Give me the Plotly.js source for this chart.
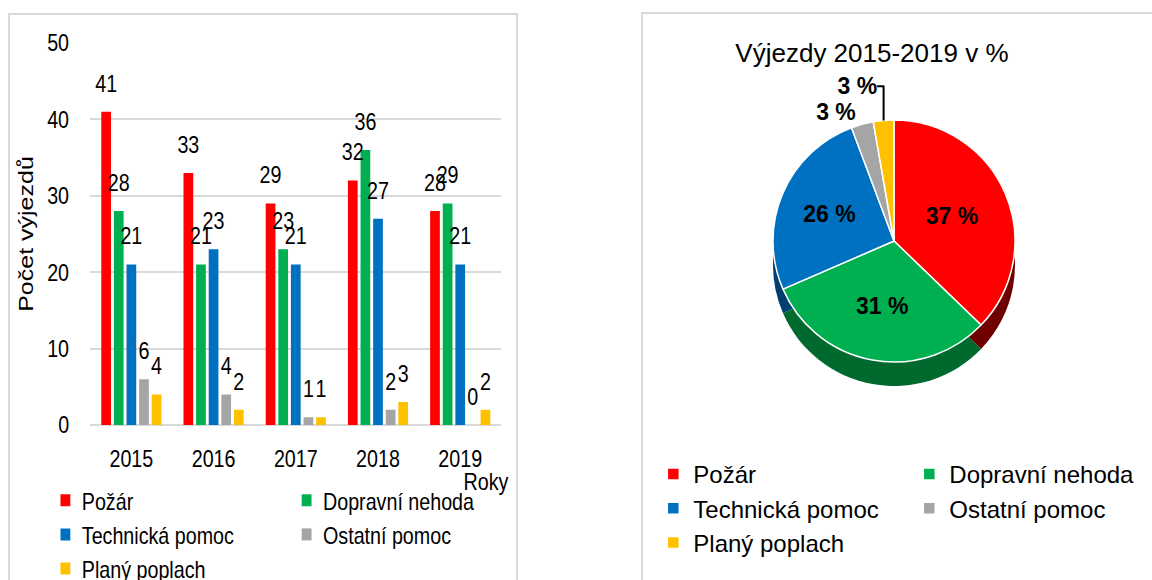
<!DOCTYPE html>
<html><head><meta charset="utf-8">
<script src="https://cdn.plot.ly/plotly-3.0.1.min.js"></script>
<style>
html,body{margin:0;padding:0;background:#fff;overflow:hidden;width:1152px;height:580px;}
#bars{position:absolute;left:0;top:0;width:780px;height:580px;transform:scaleX(0.8205);transform-origin:0 0;}
#pie{position:absolute;left:640px;top:0;width:512px;height:580px;}
.frame{position:absolute;border:2px solid #d9d9d9;box-sizing:border-box;}
</style></head><body>
<div class="frame" style="left:8px;top:13px;width:510px;height:620px;"></div>
<div class="frame" style="left:641px;top:12px;width:560px;height:620px;"></div>
<div id="bars"></div><div id="pie"></div>
<script>
// ---- data ----
const years = ['2015', '2016', '2017', '2018', '2019'];
const seriesNames = ['Požár', 'Dopravní nehoda', 'Technická pomoc', 'Ostatní pomoc', 'Planý poplach'];
const pozar = [41, 33, 29, 32, 28];
const dopravni = [28, 21, 23, 36, 29];
const technicka = [21, 23, 21, 27, 21];
const ostatni = [6, 4, 1, 2, 0];
const plany = [4, 2, 1, 3, 2];
const yTicks = [0, 10, 20, 30, 40, 50];
const yTitle = 'Počet výjezdů';
const xTitle = 'Roky';
const pieTitle = 'Výjezdy 2015-2019 v %';

// ---- styles ----
const colors = ['#ff0000', '#00b050', '#0070c0', '#a5a5a5', '#ffc000'];
const rimColors = ['#6e0000', '#00692e', '#003f70', '#6a6a6a', '#9a7400'];
const SANS = '"Liberation Sans", Arial, sans-serif';

const series = [pozar, dopravni, technicka, ostatni, plany];

// ---- bar chart (drawn in a wider box, then narrowed to mimic a condensed face) ----
const barTraces = series.map((vals, i) => ({
  type: 'bar', name: seriesNames[i], x: years, y: vals,
  marker: {color: colors[i]}, offsetgroup: 'g' + i, alignmentgroup: 'a',
  hovertemplate: '%{x}: %{y}<extra>' + seriesNames[i] + '</extra>'
}));
const labelTraces = series.map((vals, i) => ({
  type: 'scatter', mode: 'markers+text', x: years, y: vals,
  text: vals.map(String), textposition: 'top center',
  textfont: {family: SANS, size: 24, color: '#000'},
  marker: {size: 21, color: 'rgba(0,0,0,0)'},
  offsetgroup: 'g' + i, alignmentgroup: 'a',
  showlegend: false, hoverinfo: 'skip', cliponaxis: false
}));

const barLayout = {
  width: 780, height: 580,
  margin: {l: 110, r: 169, t: 43, b: 155, autoexpand: false},
  paper_bgcolor: 'rgba(0,0,0,0)', plot_bgcolor: 'rgba(0,0,0,0)',
  barmode: 'group', bargap: 0.233, bargroupgap: 0.23,
  scattermode: 'group',
  font: {family: SANS, size: 24, color: '#000'},
  xaxis: {type: 'category', ticks: 'outside', ticklen: 12, tickcolor: 'rgba(0,0,0,0)',
          showgrid: false, showline: false, zeroline: false, fixedrange: true,
          tickfont: {family: SANS, size: 24, color: '#000'}},
  yaxis: {range: [0, 50], tickvals: yTicks, showgrid: true, gridcolor: '#d9d9d9', gridwidth: 1.5,
          zeroline: true, zerolinecolor: '#d9d9d9', zerolinewidth: 2, showline: false,
          ticks: 'outside', ticklen: 20, tickcolor: 'rgba(0,0,0,0)', fixedrange: true,
          tickfont: {family: SANS, size: 24, color: '#000'},
          title: {text: yTitle, font: {family: SANS, size: 25, color: '#000'}, standoff: 9}},
  showlegend: true,
  legend: {orientation: 'h', x: -0.1004, xanchor: 'left', y: -0.139, yanchor: 'top',
           entrywidth: 249, entrywidthmode: 'pixels', traceorder: 'normal',
           font: {family: SANS, size: 24, color: '#000'}, bgcolor: 'rgba(0,0,0,0)'},
  annotations: [{text: xTitle, xref: 'paper', yref: 'paper', x: 1.022, y: -0.1466,
                 xanchor: 'right', yanchor: 'middle', showarrow: false,
                 font: {family: SANS, size: 24, color: '#000'}}]
};
Plotly.newPlot('bars', barTraces.concat(labelTraces), barLayout, {displayModeBar: false});

// ---- pie chart ----
const totals = series.map(v => v.reduce((a, b) => a + b, 0));
const grand = totals.reduce((a, b) => a + b, 0);
const pctText = totals.map(t => Math.round(t / grand * 100) + ' %');

const pieTopY = [1 - 362 / 580, 1 - 120 / 580];
const pieRimY = [1 - 386 / 580, 1 - 144 / 580];
const pieX = [(254 - 140) / 512, (254 + 140) / 512];

const rimTrace = {
  type: 'pie', labels: seriesNames, values: totals, sort: false, direction: 'clockwise', rotation: 0,
  marker: {colors: rimColors, line: {color: rimColors, width: 0}},
  textinfo: 'none', showlegend: false, hoverinfo: 'skip',
  domain: {x: pieX, y: pieRimY}
};
const topTrace = {
  type: 'pie', labels: seriesNames, values: totals, sort: false, direction: 'clockwise', rotation: 0,
  marker: {colors: colors, line: {color: '#ffffff', width: 1.5}},
  text: pctText, textinfo: 'text',
  textposition: ['inside', 'inside', 'inside', 'outside', 'outside'],
  insidetextorientation: 'horizontal',
  textfont: {family: SANS, size: 23, color: '#000', weight: 'bold'},
  hovertemplate: '%{label}: %{value} (%{percent})<extra></extra>',
  domain: {x: pieX, y: pieTopY}
};
const pieLayout = {
  width: 512, height: 580,
  margin: {l: 0, r: 0, t: 0, b: 0, autoexpand: false},
  paper_bgcolor: 'rgba(0,0,0,0)',
  title: {text: pieTitle, x: 0.453, xref: 'container', xanchor: 'center',
          y: 1 - 53 / 580, yref: 'container', yanchor: 'middle',
          font: {family: SANS, size: 26, color: '#000'}},
  showlegend: true,
  legend: {orientation: 'h', x: 0.026, xanchor: 'left', y: 0.2207, yanchor: 'top',
           entrywidth: 211, entrywidthmode: 'pixels', traceorder: 'normal',
           font: {family: SANS, size: 24, color: '#000'}, bgcolor: 'rgba(0,0,0,0)'}
};
Plotly.newPlot('pie', [rimTrace, topTrace], pieLayout, {displayModeBar: false});
</script>
</body></html>
